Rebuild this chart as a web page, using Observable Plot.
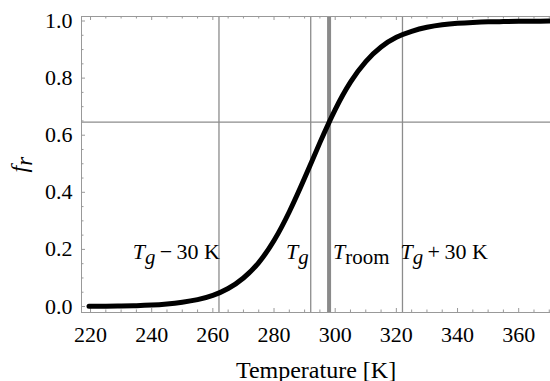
<!DOCTYPE html>
<html><head><meta charset="utf-8">
<script src="https://cdn.jsdelivr.net/npm/d3@7"></script>
<script src="https://cdn.jsdelivr.net/npm/@observablehq/plot@0.6"></script>
<style>body{margin:0;background:#fff} #chart svg text{font-family:"Liberation Serif","Times New Roman",serif !important}</style>
</head><body><div id="chart"></div>
<script>
// Curve
const temperatures = [219.5,225,230,235,240,245,250,255,260,265,270,275,280,285,290,295,300,305,310,315,320,325,330,335,340,345,350,355,360,365,370];
const frValues =     [0.001,0.001,0.002,0.003,0.005,0.009,0.015,0.024,0.039,0.063,0.100,0.154,0.231,0.332,0.450,0.574,0.690,0.786,0.858,0.909,0.943,0.964,0.978,0.987,0.992,0.995,0.997,0.998,0.999,0.999,1.000];

// Reference lines
const markerTemps = [262, 292, 322];
const markerLabels = ["Tg\u2009−\u200930 K", "Tg", "Tg\u2009+\u200930 K"];
const markerAnchors = ["end", "end", "start"];
const markerDx = [1, -2, -2];
const roomTemp = 298;
const roomLabel = "Troom";
const roomFr = 0.646;
const labelLevel = 0.2;

// Ticks
const xTicks = [220,240,260,280,300,320,340,360];
const xMinor = [225,230,235,245,250,255,265,270,275,285,290,295,305,310,315,325,330,335,345,350,355,365,370];
const yTicks = [0,0.2,0.4,0.6,0.8,1.0];
const yTickLabels = ["0.0","0.2","0.4","0.6","0.8","1.0"];
const yMinor = [0.05,0.1,0.15,0.25,0.3,0.35,0.45,0.5,0.55,0.65,0.7,0.75,0.85,0.9,0.95];
const xLabel = "Temperature [K]";
const yLabel = "fr";

const curve = temperatures.map((t, i) => ({T: t, f: frValues[i]}));
const markers = markerTemps.map((t, i) => ({T: t, label: markerLabels[i], anchor: markerAnchors[i], dx: markerDx[i]}));
const yTickData = yTicks.map((v, i) => ({v, label: yTickLabels[i]}));

const W = 550, H = 381, mL = 81, mR = 0, mT = 16, mB = 69;
const fW = W - mL - mR, fH = H - mT - mB;
const gray = "#999";

const plot = Plot.plot({
  width: W, height: H,
  marginLeft: mL, marginRight: mR, marginTop: mT, marginBottom: mB,
  style: {background: "#fff"},
  x: {domain: [217.05, 370.4], axis: null},
  y: {domain: [-0.021, 1.0158], axis: null},
  marks: [
    Plot.ruleX(markerTemps, {stroke: "#8c8c8c", strokeWidth: 1.3}),
    Plot.ruleX([roomTemp], {stroke: "#8a8a8a", strokeWidth: 4}),
    Plot.ruleY([roomFr], {stroke: "#8c8c8c", strokeWidth: 1.3}),
    Plot.frame({stroke: gray}),
    Plot.tickX(xTicks, {insetTop: fH - 4, stroke: gray}),
    Plot.tickX(xTicks, {insetBottom: fH - 4, stroke: gray}),
    Plot.tickX(xMinor, {insetTop: fH - 2.5, stroke: gray}),
    Plot.tickX(xMinor, {insetBottom: fH - 2.5, stroke: gray}),
    Plot.tickY(yTicks, {insetRight: fW - 4, stroke: gray}),
    Plot.tickY(yMinor, {insetRight: fW - 2.5, stroke: gray}),
    Plot.line(curve, {x: "T", y: "f", curve: "natural", stroke: "#000", strokeWidth: 5}),
    Plot.text(xTicks, {x: d => d, frameAnchor: "bottom", lineAnchor: "top", dy: 14, text: d => String(d), fontSize: 22, fill: "#000"}),
    Plot.text(yTickData, {y: "v", frameAnchor: "left", textAnchor: "end", dx: -9, text: "label", fontSize: 22, fill: "#000"}),
    Plot.text(markers, {x: "T", y: () => labelLevel, text: "label", textAnchor: "end", dx: 1, dy: 3, fontSize: 22, filter: d => d.anchor === "end" && d.dx === 1}),
    Plot.text(markers, {x: "T", y: () => labelLevel, text: "label", textAnchor: "end", dx: -2, dy: 3, fontSize: 22, filter: d => d.anchor === "end" && d.dx === -2}),
    Plot.text(markers, {x: "T", y: () => labelLevel, text: "label", textAnchor: "start", dx: -2, dy: 3, fontSize: 22, filter: d => d.anchor === "start"}),
    Plot.text([roomLabel], {x: () => roomTemp, y: () => labelLevel, text: d => d, textAnchor: "start", dx: 4, dy: 3, fontSize: 22}),
    Plot.text([xLabel], {frameAnchor: "bottom", text: d => d, lineAnchor: "bottom", dy: 65, fontSize: 24}),
    Plot.text([yLabel], {frameAnchor: "left", text: d => d, rotate: -90, dx: -62, dy: 8, fontSize: 24})
  ]
});
document.getElementById("chart").appendChild(plot);

// Rich text (italic symbols, subscripts)
const NS = "http://www.w3.org/2000/svg";
const rich = {
  [markerLabels[0]]: [["T", true, false], ["g", true, true], [markerLabels[0].slice(2), false, false]],
  [markerLabels[2]]: [["T", true, false], ["g", true, true], [markerLabels[2].slice(2), false, false]],
  "Tg": [["T", true, false], ["g", true, true]],
  "Troom": [["T", true, false], ["room", false, true]],
  "fr": [["f", true, false], ["r", true, true]]
};
plot.querySelectorAll("text").forEach(el => {
  const key = el.textContent;
  if (!(key in rich)) return;
  while (el.firstChild) el.removeChild(el.firstChild);
  let shifted = false;
  for (const [s, it, sub] of rich[key]) {
    const ts = document.createElementNS(NS, "tspan");
    ts.textContent = s;
    if (it) ts.setAttribute("font-style", "italic");
    if (sub) { ts.setAttribute("font-size", "0.95em"); if (!shifted) { ts.setAttribute("dy", "5"); shifted = true; } }
    else if (shifted) { ts.setAttribute("dy", "-5"); shifted = false; }
    el.appendChild(ts);
  }
});
</script></body></html>
